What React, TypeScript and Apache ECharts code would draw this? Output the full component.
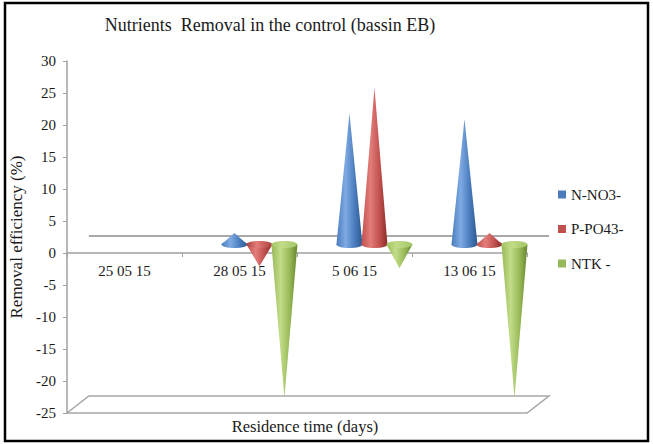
import React, { useEffect, useRef } from "react";
import * as echarts from "echarts";

const categories = ["25 05 15", "28 05 15", "5 06 15", "13 06 15"];
const seriesNames = ["N-NO3-", "P-PO43-", "NTK -"];
const nNO3 = [0, 1.8, 20.5, 19.6];
const pPO43 = [0, -3.4, 24.5, 1.8];
const ntk = [0, -24, -3.7, -24];
const yMin = -25;
const yMax = 30;
const yStep = 5;
const titleText = "Nutrients  Removal in the control (bassin EB)";
const yName = "Removal efficiency (%)";
const xName = "Residence time (days)";

const SERIF = "Liberation Serif, Times New Roman, serif";
const GRID = { left: 63, right: 126, top: 61, bottom: 31 };
const H = 444;
const DX = 11;
const DY = -8.5;
const HALF = 13;
const RY = 3.5;
const offsets = [-16, 9, 34];
const palettes = [
  { dark: "#2b5890", mid: "#4a7cbd", light: "#7eaae4", top: "#5b8dd0" },
  { dark: "#8a2c2a", mid: "#c0504d", light: "#e37d7a", top: "#a8403c" },
  { dark: "#66852f", mid: "#98b957", light: "#c2dc88", top: "#a3c464" },
];

function grad(p: any) {
  return new echarts.graphic.LinearGradient(0, 0, 1, 0, [
    { offset: 0, color: p.mid },
    { offset: 0.35, color: p.light },
    { offset: 0.7, color: p.mid },
    { offset: 1, color: p.dark },
  ]);
}

function topGrad(p: any) {
  return new echarts.graphic.LinearGradient(0, 0, 1, 0, [
    { offset: 0, color: p.top },
    { offset: 0.4, color: p.light },
    { offset: 1, color: p.top },
  ]);
}

function makeRenderItem(si: number) {
  return (params: any, api: any) => {
    const cat = api.value(0);
    const v = api.value(1);
    if (!v) return { type: "group", children: [] };
    const p0 = api.coord([cat, 0]);
    const p1 = api.coord([cat, v]);
    const cx = p0[0] + offsets[si] + DX;
    const yb = p0[1] + DY;
    const ya = p1[1] + DY;
    const p = palettes[si];
    const tri = {
      type: "polygon",
      shape: { points: [[cx - HALF, yb], [cx + HALF, yb], [cx, ya]] },
      style: { fill: grad(p) },
    };
    const ell = {
      type: "ellipse",
      shape: { cx, cy: yb, rx: HALF, ry: RY },
      style: { fill: v > 0 ? grad(p) : topGrad(p) },
    };
    return { type: "group", children: v > 0 ? [ell, tri] : [tri, ell] };
  };
}

function frameRenderItem(params: any, api: any) {
  const c0 = api.coord([0, 0]);
  const band = api.size([1, 0])[0];
  const left = c0[0] - band / 2;
  const right = left + band * categories.length;
  const zeroY = c0[1];
  const bottomY = api.coord([0, yMin])[1];
  const stroke = "#a6a6a6";
  return {
    type: "group",
    children: [
      {
        type: "line",
        shape: { x1: left + 2 * DX, y1: zeroY + 2 * DY, x2: right + 2 * DX, y2: zeroY + 2 * DY },
        style: { stroke: "#8c8c8c", lineWidth: 1.3 },
      },
      {
        type: "polygon",
        shape: {
          points: [
            [left, bottomY],
            [left + 2 * DX, bottomY + 2 * DY],
            [right + 2 * DX, bottomY + 2 * DY],
            [right, bottomY],
          ],
        },
        style: { fill: "none", stroke, lineWidth: 1.5 },
      },
    ],
  };
}

export default function App() {
  const ref = useRef<HTMLDivElement>(null);
  useEffect(() => {
    if (!ref.current) return;
    const chart = echarts.init(ref.current, null, { renderer: "svg" });
    const seriesData = [nNO3, pPO43, ntk];
    const colors = [palettes[0].mid, palettes[1].mid, palettes[2].mid];
    const gridH = H - GRID.top - GRID.bottom;
    const zeroOffset = -(gridH * (0 - yMin)) / (yMax - yMin);
    chart.setOption({
      animation: false,
      backgroundColor: "#ffffff",
      textStyle: { fontFamily: SERIF },
      grid: { ...GRID, containLabel: false },
      legend: {
        data: seriesNames,
        orient: "vertical",
        left: 553,
        top: 182,
        itemWidth: 8,
        itemHeight: 8,
        itemGap: 19.5,
        icon: "rect",
        textStyle: { fontFamily: SERIF, fontSize: 15, color: "#1a1a1a" },
        selectedMode: false,
      },
      xAxis: {
        type: "category",
        data: categories,
        offset: zeroOffset,
        axisLine: { onZero: false, lineStyle: { color: "#a0a0a0", width: 1.5 } },
        axisTick: { show: true, length: 4, lineStyle: { color: "#a0a0a0" } },
        axisLabel: { fontFamily: SERIF, fontSize: 15, color: "#1a1a1a", margin: 10 },
        splitLine: { show: false },
      },
      yAxis: {
        type: "value",
        min: yMin,
        max: yMax,
        interval: yStep,
        name: yName,
        nameLocation: "middle",
        nameGap: 23,
        nameTextStyle: { fontFamily: SERIF, fontSize: 17, color: "#1a1a1a" },
        axisLine: { show: true, lineStyle: { color: "#a0a0a0", width: 1.5 } },
        axisTick: { show: true, length: 4, lineStyle: { color: "#a0a0a0" } },
        axisLabel: { fontFamily: SERIF, fontSize: 15, color: "#1a1a1a", margin: 11 },
        splitLine: { show: false },
      },
      graphic: [
        {
          type: "rect",
          shape: { x: 5, y: 3, width: 643, height: 438 },
          style: { fill: "none", stroke: "#000", lineWidth: 2.5 },
          silent: true,
        },
        {
          type: "text",
          style: {
            x: 270,
            y: 25,
            text: titleText,
            textAlign: "center",
            textVerticalAlign: "middle",
            fontFamily: SERIF,
            fontSize: 18,
            fill: "#1a1a1a",
          },
        },
        {
          type: "text",
          style: {
            x: 305,
            y: 426,
            text: xName,
            textAlign: "center",
            textVerticalAlign: "middle",
            fontFamily: SERIF,
            fontSize: 16.5,
            fill: "#1a1a1a",
          },
        },
      ],
      series: [
        {
          type: "custom",
          name: "frame",
          renderItem: frameRenderItem,
          data: [[0, 0]],
          encode: { x: 0, y: 1 },
          silent: true,
          z: 1,
        },
        ...seriesNames.map((name, si) => ({
          type: "custom",
          name,
          renderItem: makeRenderItem(si),
          data: categories.map((c, i) => [i, seriesData[si][i]]),
          encode: { x: 0, y: 1 },
          itemStyle: { color: colors[si] },
          z: 3,
        })),
      ],
    });
    return () => chart.dispose();
  }, []);
  return (
    <div
      ref={ref}
      style={{ position: "fixed", left: 0, top: 0, width: 653, height: 444, background: "#fff" }}
    />
  );
}
